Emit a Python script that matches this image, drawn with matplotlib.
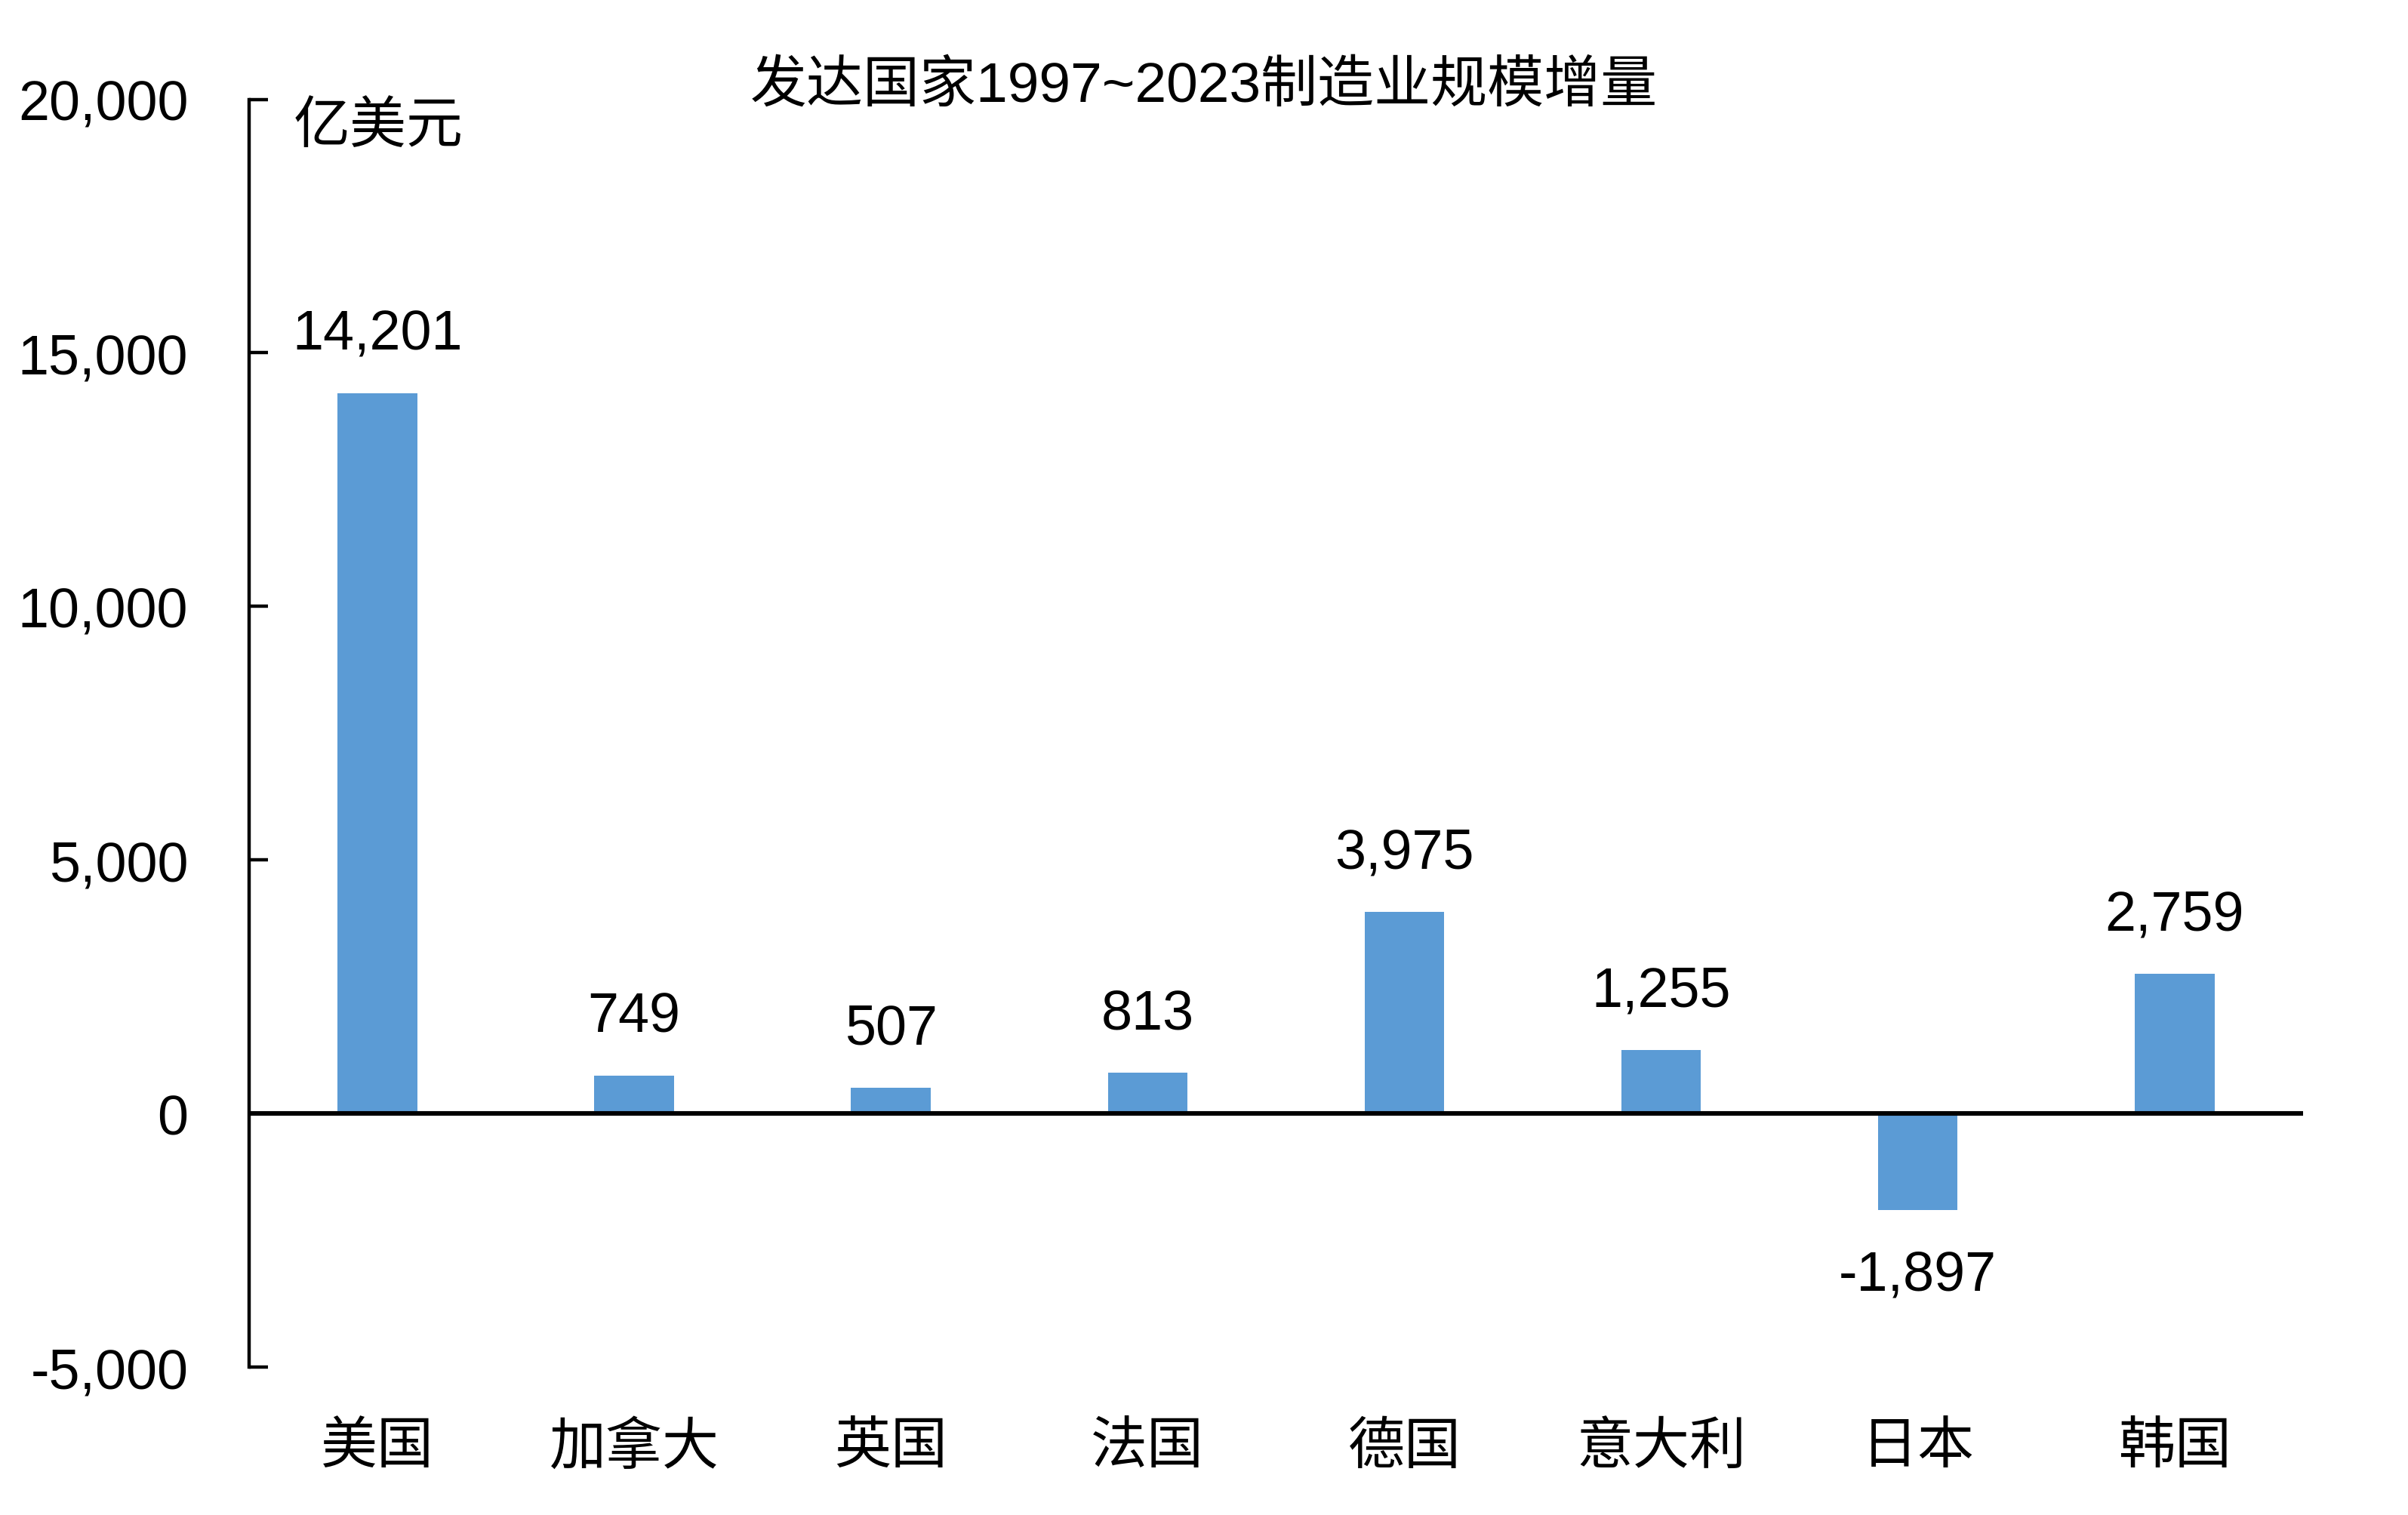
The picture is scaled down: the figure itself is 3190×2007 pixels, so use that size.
import matplotlib
matplotlib.use("Agg")
import matplotlib.pyplot as plt
from matplotlib.ticker import FuncFormatter

countries = ["美国", "加拿大", "英国", "法国", "德国", "意大利", "日本", "韩国"]
values = [14201, 749, 507, 813, 3975, 1255, -1897, 2759]
y_ticks = [-5000, 0, 5000, 10000, 15000, 20000]

TITLE = "发达国家1997~2023制造业规模增量"
UNIT = "亿美元"
BAR_COLOR = "#5B9BD5"
FONTS = ["Liberation Sans", "Noto Sans CJK SC", "DejaVu Sans"]

plt.rcParams["font.family"] = FONTS


def main():
    fig = plt.figure(figsize=(15.95, 10.04), dpi=200)
    ax = fig.add_axes([0.1034, 0.0976, 0.853, 0.8364])

    x = list(range(len(countries)))
    ax.bar(x, values, width=0.31, color=BAR_COLOR, zorder=2)

    # zero line across the plot
    ax.axhline(0, color="black", lw=2.2, zorder=3)

    ax.set_xlim(-0.5, len(countries) - 0.5)
    ax.set_ylim(-5000, 20000)
    ax.set_yticks(y_ticks)
    ax.yaxis.set_major_formatter(FuncFormatter(lambda v, p: f"{int(v):,}"))
    ax.tick_params(axis="y", direction="in", length=9, width=1.6,
                   labelsize=26.5, pad=29)

    ax.set_xticks(x)
    ax.set_xticklabels(countries, fontsize=27)
    ax.tick_params(axis="x", length=0, pad=26)

    for side in ["top", "right", "bottom"]:
        ax.spines[side].set_visible(False)
    ax.spines["left"].set_linewidth(1.6)

    # value labels
    for xi, v in zip(x, values):
        off = 28 if v >= 0 else -31
        ax.annotate(f"{v:,}", (xi, v), xytext=(0, off),
                    textcoords="offset points", ha="center", va="center",
                    fontsize=26.5)

    fig.text(0.5, 0.943, TITLE, ha="center", va="center", fontsize=27)
    ax.text(0.063, 0.978, UNIT, transform=ax.transAxes, ha="center",
            va="center", fontsize=27)

    fig.savefig("out.png", dpi=200, facecolor="white")


if __name__ == "__main__":
    main()
